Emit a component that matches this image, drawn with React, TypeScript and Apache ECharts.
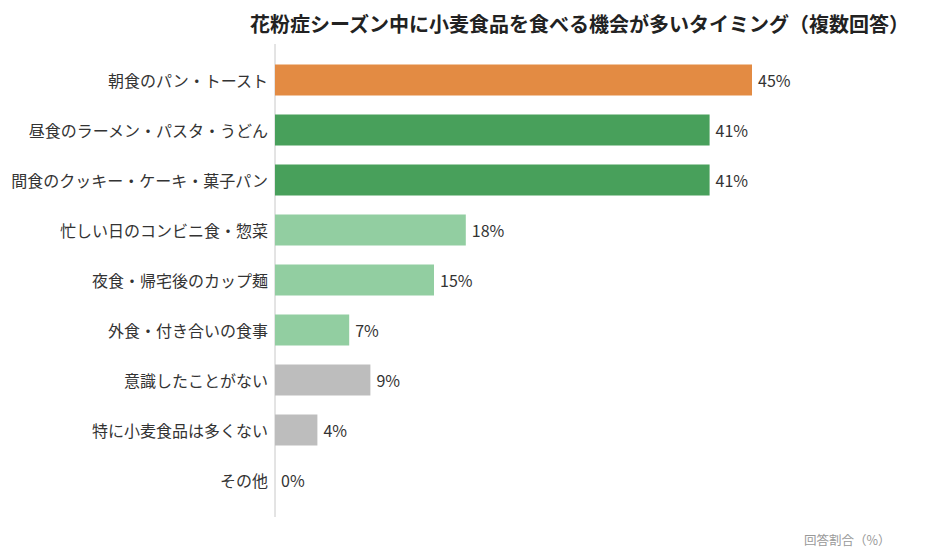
import React, { useEffect, useRef } from "react";
import * as echarts from "echarts";

const categories = [
  "朝食のパン・トースト",
  "昼食のラーメン・パスタ・うどん",
  "間食のクッキー・ケーキ・菓子パン",
  "忙しい日のコンビニ食・惣菜",
  "夜食・帰宅後のカップ麺",
  "外食・付き合いの食事",
  "意識したことがない",
  "特に小麦食品は多くない",
  "その他",
];
const values = [45, 41, 41, 18, 15, 7, 9, 4, 0];
const barColors = [
  "#E38B43",
  "#48A05B",
  "#48A05B",
  "#92CEA1",
  "#92CEA1",
  "#92CEA1",
  "#BDBDBD",
  "#BDBDBD",
  "#BDBDBD",
];
const titleText = "花粉症シーズン中に小麦食品を食べる機会が多いタイミング（複数回答）";
const axisName = "回答割合（%）";

const FONT = "'Noto Sans CJK JP', 'Noto Sans', sans-serif";

export default function App() {
  const ref = useRef<HTMLDivElement>(null);
  useEffect(() => {
    if (!ref.current) return;
    const chart = echarts.init(ref.current, null, { renderer: "svg" });
    chart.setOption({
      animation: false,
      textStyle: { fontFamily: FONT },
      title: {
        text: titleText,
        left: 242,
        top: 3,
        padding: [0, 0, 0, 0],
        textStyle: { fontFamily: FONT, fontSize: 20, fontWeight: "bold", color: "#222", lineHeight: 24 },
      },
      grid: { left: 267, right: 124, top: 47, bottom: 50, containLabel: false },
      xAxis: {
        type: "value",
        min: 0,
        max: 50,
        show: false,
      },
      yAxis: {
        type: "category",
        data: categories,
        inverse: true,
        axisLine: { show: false },
        axisTick: { show: false },
        axisLabel: { color: "#333", fontSize: 16, margin: 7, fontFamily: FONT },
      },
      series: [
        {
          type: "bar",
          data: values.map((v, i) => ({ value: v, itemStyle: { color: barColors[i] } })),
          barWidth: 31,
          label: {
            show: true,
            position: "right",
            distance: 6,
            formatter: "{c}%",
            color: "#333",
            fontSize: 16,
            fontFamily: FONT,
          },
        },
      ],
      graphic: [
        {
          type: "line",
          shape: { x1: 267, y1: 36, x2: 267, y2: 509 },
          style: { stroke: "#C8C8C8", lineWidth: 1 },
        },
        {
          type: "text",
          left: 796,
          top: 525,
          style: { text: axisName, fill: "#999", fontSize: 12.5, fontFamily: FONT },
        },
      ],
    });
    return () => chart.dispose();
  }, []);
  return <div ref={ref} style={{ width: 921, height: 547 }} />;
}
